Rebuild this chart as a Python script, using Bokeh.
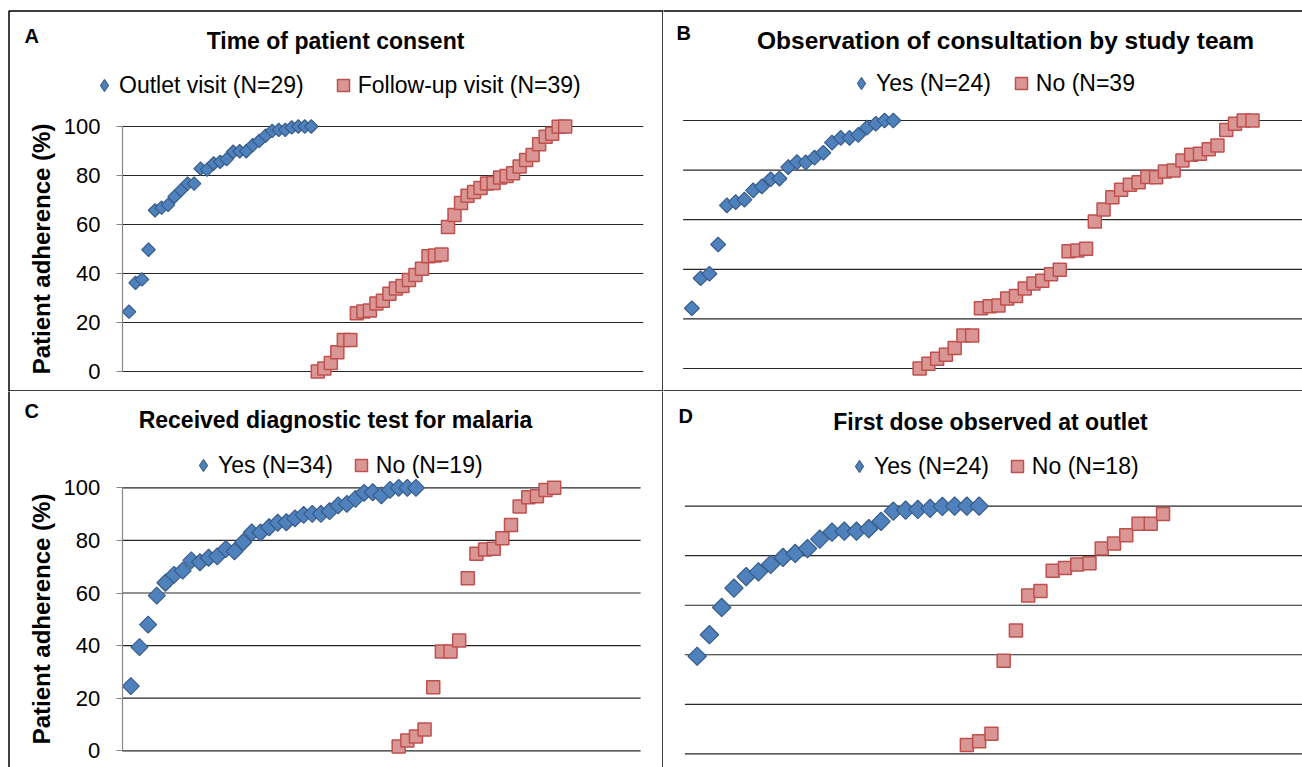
import math
from bokeh.plotting import figure
from bokeh.models import Range1d, FixedTicker, Legend, LegendItem, Label, BoxAnnotation
from bokeh.layouts import column, row
from bokeh.embed import file_html
from bokeh.resources import INLINE

# ---------------- data (patient adherence %, sorted per group) ----------------
a_title = "Time of patient consent"
a_names = ["Outlet visit (N=29)", "Follow-up visit (N=39)"]
a_outlet = [24.4, 36.2, 37.6, 49.7, 65.8, 66.9, 68.0, 71.4, 74.0, 76.7, 76.7, 82.8, 82.4, 84.9, 85.6,
            86.7, 89.7, 89.9, 89.9, 92.4, 94.1, 96.3, 98.2, 98.6, 98.6, 99.6, 100, 100, 100]
a_follow = [0, 1.2, 3.5, 7.9, 12.9, 12.9, 23.8, 24.5, 24.9, 27.8, 28.9, 31.7, 33.9, 34.9, 37.3, 39.4,
            41.9, 47.0, 47.3, 47.8, 59.0, 63.9, 68.8, 71.7, 73.3, 74.9, 76.7, 76.9, 79.2, 79.8, 80.9,
            83.7, 86.3, 88.4, 92.8, 95.8, 97.0, 99.9, 100]
a_start = [1, 30]

b_title = "Observation of consultation by study team"
b_names = ["Yes (N=24)", "No (N=39"]
b_yes = [24.3, 36.4, 38.2, 50.0, 65.8, 67.1, 68.1, 71.8, 73.4, 76.3, 76.6, 81.2, 83.2, 83.1, 85.0,
         87.0, 91.1, 93.0, 93.0, 94.2, 97.1, 98.7, 100, 100]
b_no = [0, 1.9, 3.9, 5.5, 8.3, 13.3, 13.3, 24.3, 25.1, 25.4, 28.2, 29.2, 32.3, 34.3, 35.4, 38.0, 39.8,
        47.3, 47.6, 48.3, 59.3, 64.1, 69.1, 72.1, 74.1, 75.1, 77.2, 77.1, 79.4, 79.8, 83.9, 86.2, 86.6,
        88.4, 89.9, 96.2, 98.7, 100, 100]
b_start = [1, 27]

c_title = "Received diagnostic test for malaria"
c_names = ["Yes (N=34)", "No (N=19)"]
c_yes = [24.6, 39.4, 48.0, 59.0, 63.9, 66.9, 68.5, 72.4, 71.7, 73.4, 73.9, 76.7, 75.8, 79.3, 83.0,
         83.0, 85.0, 86.7, 86.9, 88.4, 89.7, 90.1, 90.1, 91.1, 93.3, 93.9, 95.8, 98.1, 98.3, 97.1,
         99.2, 100, 100, 100]
c_no = [1.6, 3.9, 5.4, 8.1, 24.2, 37.8, 37.8, 41.9, 65.6, 74.9, 76.5, 76.8, 80.8, 85.9, 92.9, 96.4,
        96.8, 99.2, 100]
c_start = [1, 32]

d_title = "First dose observed at outlet"
d_names = ["Yes (N=24)", "No (N=18)"]
d_yes = [39.4, 48.1, 59.1, 66.9, 71.6, 73.5, 76.5, 79.3, 80.9, 82.9, 86.7, 89.5, 89.9, 89.9, 90.9,
         93.9, 98.0, 98.4, 98.7, 99.1, 99.9, 100, 100, 100]
d_no = [3.6, 5.1, 8.1, 37.6, 49.8, 63.9, 65.8, 73.9, 75.0, 76.5, 77.0, 82.9, 84.9, 88.3, 92.9, 92.9, 96.9]
d_start = [1, 23]

y_ticks = [0, 20, 40, 60, 80, 100]
y_label = "Patient adherence (%)"

# ---------------- styling ----------------
FONT = "Liberation Sans"
BLUE_FILL, BLUE_LINE = "#4F81BD", "#385D8A"
RED_FILL, RED_LINE = "#D99694", "#C0504D"
GRID = "#262626"


def panel(letter, title, names, s1, s2, starts, geo):
    (ox, oy, W, H,              # canvas position/size on the page
     x0px, dxpx, y0px, y100px,  # pixel calibration of the data scales
     grid_end, dsize, show_axis, title_size,
     title_xy, letter_xy, leg_xy, leg_spacing, box) = geo
    upx = (y0px - y100px) / 100.0
    xr = Range1d((ox - x0px) / dxpx, (ox + W - x0px) / dxpx)
    yr = Range1d((y0px - (oy + H)) / upx, (y0px - oy) / upx)
    p = figure(width=W, height=H, output_backend="svg", toolbar_location=None, title=None,
               x_range=xr, y_range=yr, x_axis_location=None,
               y_axis_location=("left" if show_axis else None),
               min_border_left=0, min_border_right=0, min_border_top=0, min_border_bottom=0,
               background_fill_color="white", border_fill_color="white")
    p.outline_line_color = None
    p.xgrid.visible = False
    p.ygrid.visible = False

    # horizontal gridlines, from the axis to the end of the plot area
    p.segment(x0=[0] * len(y_ticks), x1=[grid_end] * len(y_ticks), y0=y_ticks, y1=y_ticks,
              line_color=GRID, line_width=1.2)

    if show_axis:
        ax = p.yaxis[0]
        ax.fixed_location = 0
        ax.ticker = FixedTicker(ticks=y_ticks)
        ax.bounds = (0, 100)
        ax.axis_line_color = "#868686"
        ax.axis_line_width = 1.2
        ax.major_tick_line_color = "#868686"
        ax.major_tick_line_width = 1.2
        ax.major_tick_out = 6
        ax.major_tick_in = 0
        ax.minor_tick_line_color = None
        ax.major_label_standoff = 16
        ax.major_label_text_font = FONT
        ax.major_label_text_font_size = "22px"
        ax.major_label_text_color = "black"
        ax.axis_label = y_label
        ax.axis_label_text_font = FONT
        ax.axis_label_text_font_size = "24px"
        ax.axis_label_text_font_style = "bold"
        ax.axis_label_text_color = "black"
        ax.axis_label_standoff = 6

    x1 = list(range(starts[0], starts[0] + len(s1)))
    x2 = list(range(starts[1], starts[1] + len(s2)))
    p.scatter(x1, s1, marker="square", angle=math.pi / 4, size=dsize,
              fill_color=BLUE_FILL, line_color=BLUE_LINE, line_width=1.2)
    r2 = p.scatter(x2, s2, marker="square", size=13,
                   fill_color=RED_FILL, line_color=RED_LINE, line_width=1.5)
    # legend key for the diamond series (same data, not drawn in the plot itself)
    k1 = p.scatter(x1, s1, marker="diamond", size=dsize, visible=False,
                   fill_color=BLUE_FILL, line_color=BLUE_LINE, line_width=1.2)

    def sx(px):
        return px - ox

    def sy(py):
        return (oy + H) - py

    p.add_layout(Label(x=sx(title_xy[0]), y=sy(title_xy[1]), x_units="screen", y_units="screen",
                       text=title, text_font=FONT, text_font_size=title_size, text_font_style="bold",
                       text_align="center", text_baseline="middle", text_color="black"))
    p.add_layout(Label(x=sx(letter_xy[0]), y=sy(letter_xy[1]), x_units="screen", y_units="screen",
                       text=letter, text_font=FONT, text_font_size="20px", text_font_style="bold",
                       text_align="left", text_baseline="middle", text_color="black"))
    leg = Legend(items=[LegendItem(label=names[0], renderers=[k1]),
                        LegendItem(label=names[1], renderers=[r2])],
                 location=(sx(leg_xy[0]), sy(leg_xy[1])), orientation="horizontal",
                 label_text_font=FONT, label_text_font_size="23px", label_text_color="black",
                 glyph_width=30, glyph_height=30, label_standoff=0, spacing=leg_spacing,
                 padding=0, margin=0, border_line_color=None, background_fill_alpha=0,
                 inactive_fill_alpha=0)
    p.add_layout(leg)
    # box round the panel
    bl, bt, br, bb = box
    p.add_layout(BoxAnnotation(left=sx(bl), right=sx(br), top=sy(bt), bottom=sy(bb),
                               left_units="screen", right_units="screen",
                               top_units="screen", bottom_units="screen",
                               fill_alpha=0, line_color="black", line_alpha=1.0, line_width=1.5))
    return p


pA = panel("A", a_title, a_names, a_outlet, a_follow, a_start,
           (0, 0, 663, 391, 122, 6.51, 371, 126, 80, 9.5, True, "23px",
            (335, 40), (24, 35), (89, 100), 24, (8.5, 10.5, 662.5, 390.5)))
pB = panel("B", b_title, b_names, b_yes, b_no, b_start,
           (663, 0, 639, 391, 682.6, 8.76, 368, 120, 71, 10.5, False, "24.5px",
            (1005, 40), (676, 32), (846, 98), 15, (655, 10.5, 1320, 390.5)))
pC = panel("C", c_title, c_names, c_yes, c_no, c_start,
           (0, 391, 663, 376, 121.7, 8.64, 750.3, 487.3, 60, 12, True, "23px",
            (335, 419), (24, 410), (188, 480), 13, (8.5, 380, 662.5, 790)))
pD = panel("D", d_title, d_names, d_yes, d_no, d_start,
           (663, 391, 639, 376, 684.4, 12.26, 753.3, 505.7, 51, 13, False, "23px",
            (990, 421), (678, 415), (844, 481), 13, (655, 380, 1320, 790)))

layout = column(row(pA, pB), row(pC, pD))
open("out.html", "w").write(file_html(layout, INLINE))
